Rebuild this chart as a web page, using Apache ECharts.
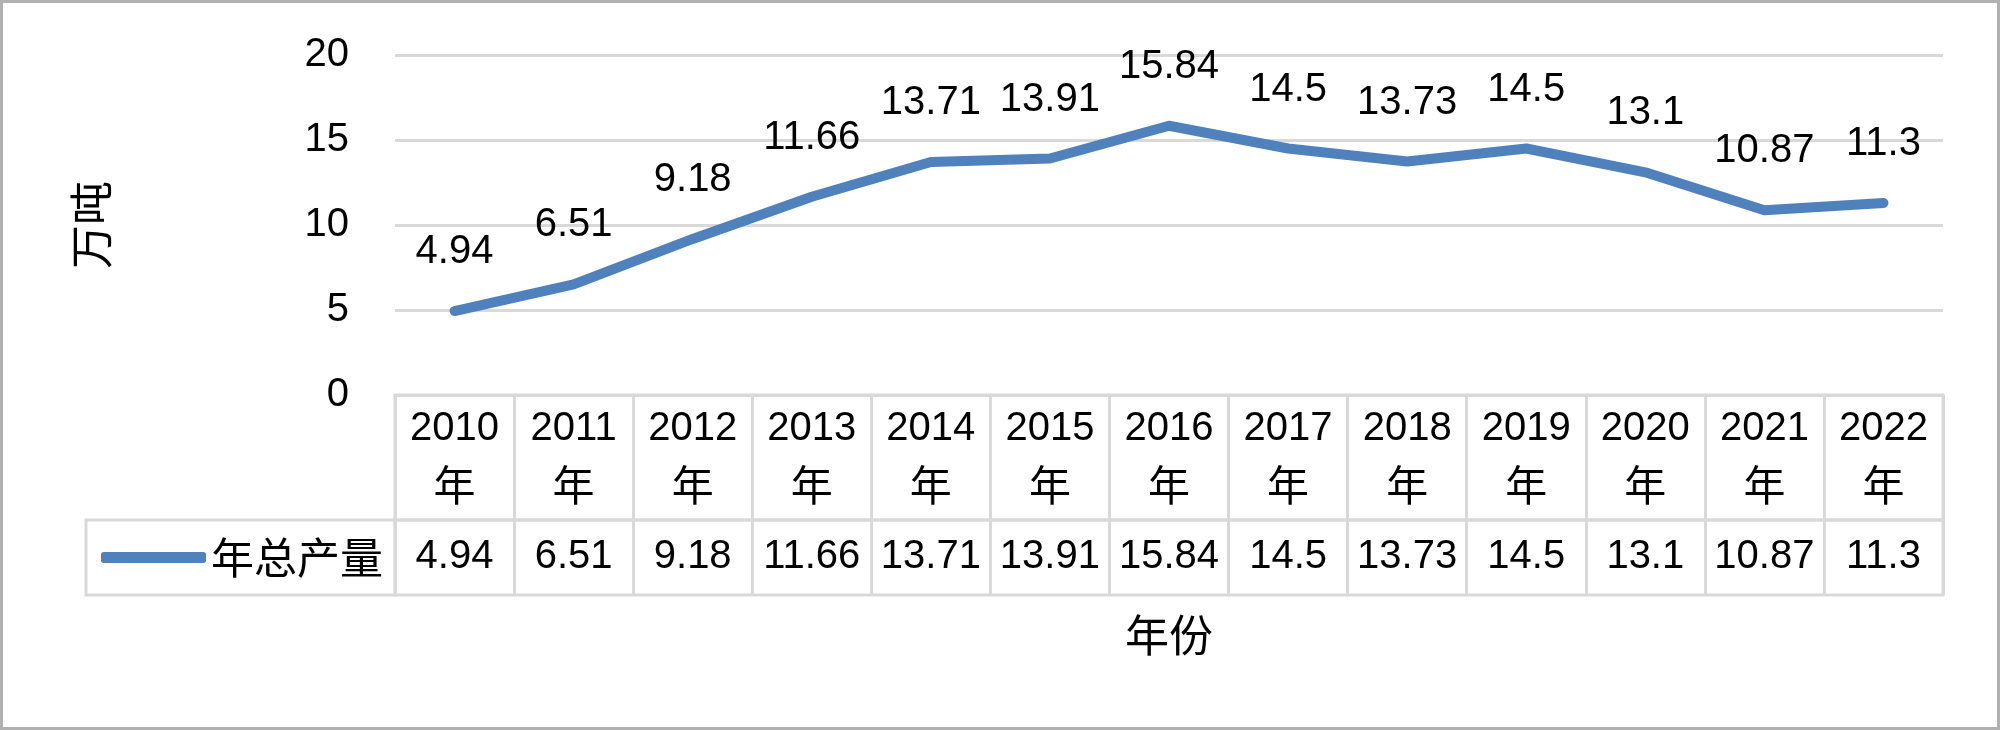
<!DOCTYPE html>
<html>
<head>
<meta charset="utf-8">
<script src="https://cdn.jsdelivr.net/npm/echarts@6/dist/echarts.min.js"></script>
<style>
  html, body { margin: 0; padding: 0; background: #fff; }
  #chart { width: 2000px; height: 730px; }
</style>
</head>
<body>
<div id="chart"></div>
<script>
// 年份与年总产量（万吨）
var years = ['2010年', '2011年', '2012年', '2013年', '2014年', '2015年', '2016年',
  '2017年', '2018年', '2019年', '2020年', '2021年', '2022年']
var output = [4.94, 6.51, 9.18, 11.66, 13.71, 13.91, 15.84, 14.5, 13.73, 14.5, 13.1, 10.87, 11.3]
var seriesName = '年总产量'
var yTicks = [0, 5, 10, 15, 20]

var numFont = 'Liberation Sans'
var cjkFont = 'Noto Sans CJK SC'
var gridColor = '#d9d9d9'
var lineColor = '#4F81BD'

var chart = echarts.init(document.getElementById('chart'))

var option = {
  backgroundColor: '#fff',
  animation: false,
  grid: [
    // 折线区
    { left: 395, right: 57, top: 55, height: 340 },
    // 表头行
    { left: 395, right: 57, top: 395, height: 125, show: true, borderColor: gridColor, borderWidth: 3 },
    // 数值行
    { left: 395, right: 57, top: 520, height: 75, show: true, borderColor: gridColor, borderWidth: 3 }
  ],
  legend: {
    left: 96,
    top: 531,
    data: [seriesName],
    icon: 'roundRect',
    itemWidth: 105,
    itemHeight: 11,
    textStyle: { fontFamily: cjkFont, fontSize: 43, color: '#000' }
  },
  xAxis: [
    {
      gridIndex: 0,
      type: 'category',
      data: years,
      boundaryGap: true,
      axisLine: { show: true, lineStyle: { color: gridColor, width: 3 } },
      axisTick: { show: false },
      axisLabel: {
        margin: 6,
        interval: 0,
        formatter: function (v) {
          return '{y|' + v.slice(0, 4) + '}\n{n|' + v.slice(4) + '}'
        },
        rich: {
          y: { fontFamily: numFont, fontSize: 40, color: '#000', lineHeight: 56 },
          n: { fontFamily: cjkFont, fontSize: 42, color: '#000', lineHeight: 56 }
        }
      },
      name: '年份',
      nameLocation: 'middle',
      nameGap: 218,
      nameTextStyle: { fontFamily: cjkFont, fontSize: 44, color: '#000' }
    },
    {
      gridIndex: 1,
      type: 'category',
      data: years,
      boundaryGap: true,
      axisLine: { show: false },
      axisTick: { show: false },
      axisLabel: { show: false },
      splitLine: { show: true, lineStyle: { color: gridColor, width: 3 } }
    },
    {
      gridIndex: 2,
      type: 'category',
      data: years,
      position: 'top',
      boundaryGap: true,
      axisLine: { show: false },
      axisTick: { show: false },
      axisLabel: {
        interval: 0,
        margin: -37,
        verticalAlign: 'middle',
        fontFamily: numFont,
        fontSize: 40,
        color: '#000',
        formatter: function (v, i) { return String(output[i]) }
      },
      splitLine: { show: true, lineStyle: { color: gridColor, width: 3 } }
    }
  ],
  yAxis: [
    {
      gridIndex: 0,
      type: 'value',
      min: yTicks[0],
      max: yTicks[yTicks.length - 1],
      interval: 5,
      axisLine: { show: false },
      axisTick: { show: false },
      axisLabel: { margin: 46, fontFamily: numFont, fontSize: 40, color: '#000' },
      splitLine: { lineStyle: { color: gridColor, width: 3 } },
      name: '万吨',
      nameLocation: 'middle',
      nameRotate: 90,
      nameGap: 282,
      nameTextStyle: { fontFamily: cjkFont, fontSize: 44, color: '#000' }
    },
    { gridIndex: 1, type: 'value', show: false },
    { gridIndex: 2, type: 'value', show: false }
  ],
  graphic: [
    // 图例单元格
    {
      type: 'rect',
      shape: { x: 86, y: 520, width: 309, height: 75 },
      style: { fill: 'none', stroke: gridColor, lineWidth: 3 },
      silent: true
    },
    // 外框
    {
      type: 'rect',
      shape: { x: 1.5, y: 1.5, width: 1997, height: 727 },
      style: { fill: 'none', stroke: '#b0b0b0', lineWidth: 3 },
      silent: true
    }
  ],
  series: [
    {
      name: seriesName,
      type: 'line',
      xAxisIndex: 0,
      yAxisIndex: 0,
      data: output,
      symbol: 'circle',
      symbolSize: 8,
      itemStyle: { color: lineColor },
      lineStyle: { color: lineColor, width: 10, cap: 'round', join: 'round' },
      label: {
        show: true,
        position: 'top',
        distance: 35,
        fontFamily: numFont,
        fontSize: 40,
        color: '#000'
      }
    }
  ]
}

chart.setOption(option)
</script>
</body>
</html>
